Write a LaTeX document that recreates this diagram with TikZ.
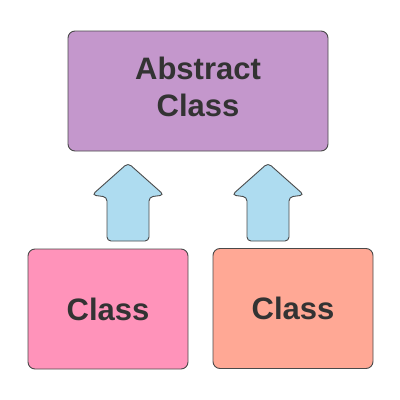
\documentclass[tikz,border=0pt]{standalone}
\usepackage{fontspec}
\setmainfont{Liberation Sans}
\definecolor{absfill}{HTML}{C497CC}
\definecolor{pinkfill}{HTML}{FF93BA}
\definecolor{salmonfill}{HTML}{FFA895}
\definecolor{arrowfill}{HTML}{AEDCF0}
\definecolor{edgecol}{HTML}{4A4A4A}
\definecolor{txtcol}{HTML}{333333}
\tikzset{
  classbox/.style={draw=edgecol, line width=0.9pt, rounded corners=7pt, minimum width=160pt, minimum height=120pt, inner sep=0pt},
  classtext/.style={font=\fontsize{31pt}{37pt}\selectfont\bfseries, text=txtcol, align=center, inner sep=0pt},
  blockarrow/.style={draw=edgecol, line width=0.9pt, fill=arrowfill, rounded corners=4pt}
}
\begin{document}
\begin{tikzpicture}[x=1pt,y=-1pt]
\useasboundingbox (0,0) rectangle (400,400);
\node[classbox, fill=absfill, minimum width=260pt, minimum height=120pt] (abs) at (198,91) {};
\node[classtext] (abstext) at (198,87) {Abstract\\Class};
\node[classbox, fill=pinkfill, classtext] (c1) at (108,309) {Class};
\node[classbox, fill=salmonfill, classtext] (c2) at (293,308.5) {Class};
\coordinate (t1) at (128,163);
\coordinate (t2) at (268,163);
\draw[blockarrow] (t1) -- ++(36,32) -- ++(-15,2) -- ++(0,44) -- ++(-42,0) -- ++(0,-44) -- ++(-15,-2) -- cycle;
\draw[blockarrow] (t2) -- ++(36,32) -- ++(-15,2) -- ++(0,44) -- ++(-42,0) -- ++(0,-44) -- ++(-15,-2) -- cycle;
\end{tikzpicture}
\end{document}
